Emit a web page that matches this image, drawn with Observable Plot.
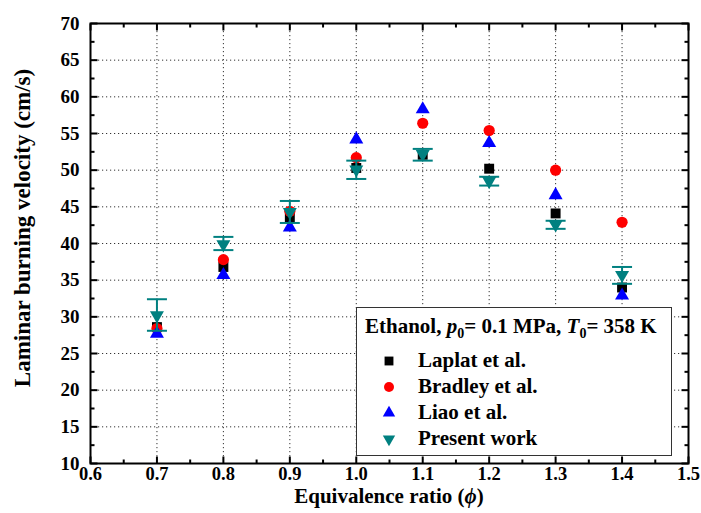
<!DOCTYPE html>
<html>
<head>
<meta charset="utf-8">
<script src="https://cdn.jsdelivr.net/npm/d3@7"></script>
<script src="https://cdn.jsdelivr.net/npm/@observablehq/plot@0.6"></script>
<style>
  body { margin: 0; background: #fff; }
  #chart {
    position: relative; width: 701px; height: 513px;
    font-family: "Liberation Serif", "Times New Roman", serif; font-weight: bold; color: #000;
  }
  #chart svg.plot { position: absolute; left: 0; top: 0; }
  .xtitle { position: absolute; left: 90px; width: 598px; top: 486px; text-align: center; font-size: 21px; line-height: 1; }
  .ytitle { position: absolute; left: 22px; top: 228px; font-size: 23px; line-height: 1; white-space: nowrap;
            transform: translate(-50%, -50%) rotate(-90deg); }
  #legend {
    position: absolute; left: 356px; top: 307px; width: 316px; height: 149px; box-sizing: border-box;
    border: 1px solid #333; background: #fff; font-size: 21px;
  }
  #legend .head { position: absolute; left: 8px; top: 8px; white-space: nowrap; line-height: 1; }
  #legend sub { font-size: 14px; vertical-align: -5px; line-height: 0; }
  #legend .row { position: absolute; left: 0; height: 26px; white-space: nowrap; }
  #legend .row svg { position: absolute; left: 20px; top: 0; }
  #legend .row span { position: absolute; left: 61px; top: 2px; line-height: 1; }
</style>
</head>
<body>
<div id="chart"></div>
<script>
// Equivalence ratios where the burning velocities were measured
const phi = [0.7, 0.8, 0.9, 1.0, 1.1, 1.2, 1.3, 1.4];

// Laminar burning velocity of ethanol (cm/s), p0 = 0.1 MPa, T0 = 358 K
const laplat  = [28.6, 36.8, 43.6, 50.3, 52.1, 50.2, 44.1, 34.0];
const bradley = [28.4, 37.8, 44.4, 51.7, 56.4, 55.4, 50.0, 42.9];
const liao    = [27.7, 35.7, 42.2, 54.2, 58.3, 53.7, 46.6, 32.9];
const present = [30.2, 39.9, 44.3, 50.1, 52.2, 48.5, 42.6, 35.7];
const presentLow  = [28.1, 39.1, 42.8, 48.8, 51.3, 47.9, 42.0, 34.5];
const presentHigh = [32.4, 40.9, 45.8, 51.3, 52.9, 49.1, 43.1, 36.8];

// Axis ticks
const xMajor = [0.6, 0.7, 0.8, 0.9, 1.0, 1.1, 1.2, 1.3, 1.4, 1.5];
const xMinor = [0.65, 0.75, 0.85, 0.95, 1.05, 1.15, 1.25, 1.35, 1.45];
const yMajor = [10, 15, 20, 25, 30, 35, 40, 45, 50, 55, 60, 65, 70];
const yMinor = [12.5, 17.5, 22.5, 27.5, 32.5, 37.5, 42.5, 47.5, 52.5, 57.5, 62.5, 67.5];

const series = [
  {name: "Laplat et al.",  values: laplat,  symbol: d3.symbolSquare,   color: "#000000", r: 5.6, rotate: 0},
  {name: "Bradley et al.", values: bradley, symbol: d3.symbolCircle,   color: "#ff0000", r: 5.6, rotate: 0},
  {name: "Liao et al.",    values: liao,    symbol: d3.symbolTriangle, color: "#0000ff", r: 5.2, rotate: 0},
  {name: "Present work",   values: present, symbol: d3.symbolTriangle, color: "#008080", r: 5.2, rotate: 180}
];
const teal = "#008080";

const rows = phi.map((p, i) => ({phi: p, lo: presentLow[i], hi: presentHigh[i]}));

// Pixel-length strokes used for inward ticks and error-bar caps
const stroke = (x0, y0, x1, y1) => ({draw(ctx) { ctx.moveTo(x0, y0); ctx.lineTo(x1, y1); }});
const tickMarks = (values, len, anchor, channel) => {
  const sym = {
    bottom: stroke(0, 0, 0, -len), top: stroke(0, 0, 0, len),
    left: stroke(0, 0, len, 0), right: stroke(0, 0, -len, 0)
  }[anchor];
  return Plot.dot(values, {[channel]: d => d, frameAnchor: anchor, symbol: sym, fill: "none", stroke: "#000", strokeWidth: 2});
};

const dotted = {stroke: "#333", strokeOpacity: 1, strokeWidth: 1, strokeDasharray: "1.2,2.8"};

const plot = Plot.plot({
  width: 701, height: 513,
  marginLeft: 90, marginRight: 13, marginTop: 23, marginBottom: 50,
  style: {fontFamily: '"Liberation Serif", "Times New Roman", serif', fontWeight: "bold", background: "transparent"},
  x: {domain: [0.6, 1.5]},
  y: {domain: [10, 70]},
  marks: [
    Plot.gridX(xMajor.slice(1, -1), dotted),
    Plot.gridY(yMajor.slice(1, -1), dotted),
    Plot.axisX({ticks: xMajor, tickFormat: d3.format(".1f"), tickSize: 0, tickPadding: 3, fontSize: 18.5, label: null}),
    Plot.axisY({ticks: yMajor, tickFormat: d3.format("d"), tickSize: 0, tickPadding: 11, fontSize: 19, label: null}),
    ...["bottom", "top"].flatMap(a => [tickMarks(xMajor, 7, a, "x"), tickMarks(xMinor, 4, a, "x")]),
    ...["left", "right"].flatMap(a => [tickMarks(yMajor, 7, a, "y"), tickMarks(yMinor, 4, a, "y")]),
    ...series.map(s => Plot.dot(phi, {
      x: d => d, y: (d, i) => s.values[i],
      symbol: s.symbol, r: s.r, fill: s.color, stroke: "none", rotate: s.rotate
    })),
    Plot.ruleX(rows, {x: "phi", y1: "lo", y2: "hi", stroke: teal, strokeWidth: 2}),
    Plot.dot(rows, {x: "phi", y: "lo", symbol: stroke(-10, 0, 10, 0), fill: "none", stroke: teal, strokeWidth: 2}),
    Plot.dot(rows, {x: "phi", y: "hi", symbol: stroke(-10, 0, 10, 0), fill: "none", stroke: teal, strokeWidth: 2}),
    Plot.frame({stroke: "#000", strokeWidth: 2})
  ]
});

const chart = document.getElementById("chart");
chart.appendChild(plot);

const xt = document.createElement("div");
xt.className = "xtitle";
xt.innerHTML = "Equivalence ratio (<i>ϕ</i>)";
chart.appendChild(xt);

const yt = document.createElement("div");
yt.className = "ytitle";
yt.textContent = "Laminar burning velocity (cm/s)";
chart.appendChild(yt);

// Legend box with the experimental conditions and the four data sets
const legend = document.createElement("div");
legend.id = "legend";
legend.innerHTML = '<div class="head">Ethanol, <i>p</i><sub>0</sub>= 0.1 MPa, <i>T</i><sub>0</sub>= 358 K</div>';
series.forEach((s, i) => {
  const row = document.createElement("div");
  row.className = "row";
  row.style.top = (40 + i * 26) + "px";
  row.style.width = "100%";
  const size = Math.PI * (s.r - 0.6) * (s.r - 0.6);
  const path = d3.symbol(s.symbol, size)();
  row.innerHTML = `<svg width="24" height="26"><path d="${path}" fill="${s.color}" transform="translate(12,13) rotate(${s.rotate})"/></svg><span>${s.name}</span>`;
  legend.appendChild(row);
});
chart.appendChild(legend);
</script>
</body>
</html>
